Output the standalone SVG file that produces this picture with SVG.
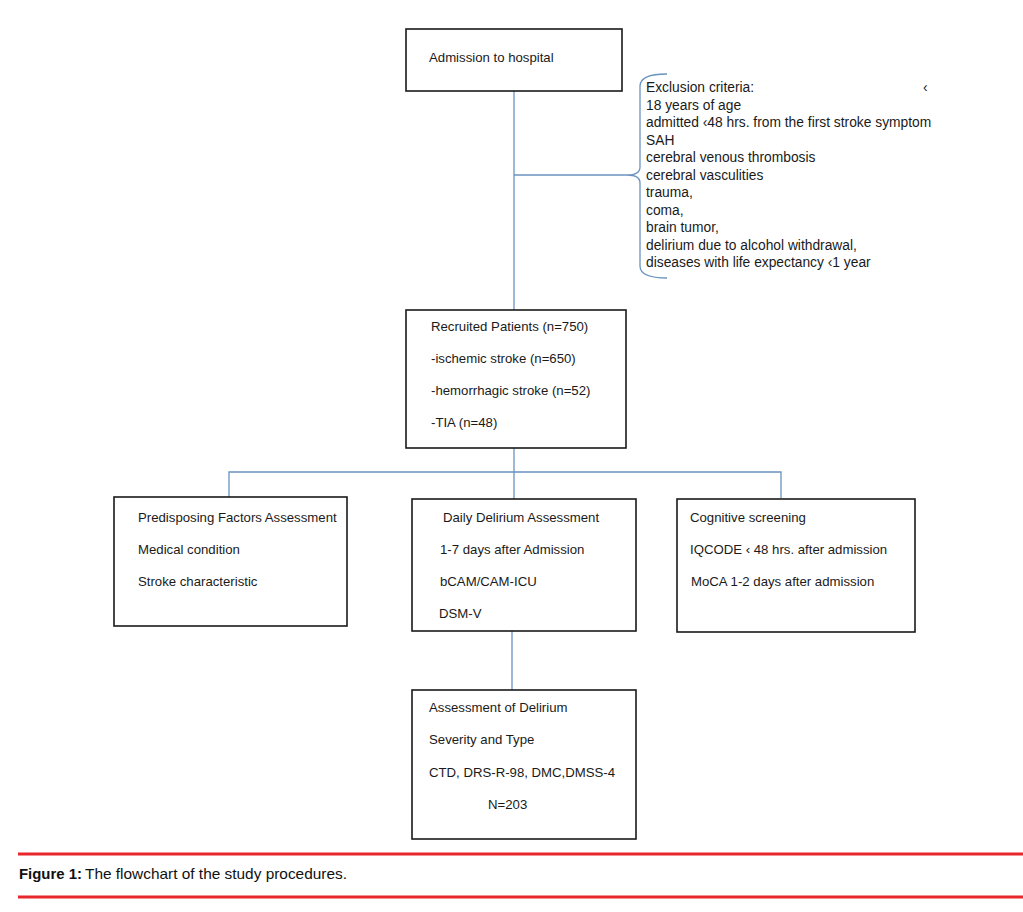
<svg xmlns="http://www.w3.org/2000/svg" width="1023" height="912" viewBox="0 0 1023 912">
<style>
.box{fill:#fff;stroke:#1a1a1a;stroke-width:1.6}
.t{font-family:"Liberation Sans",Arial,sans-serif;font-size:13.2px;fill:#1a1a1a}
.e{font-family:"Liberation Sans",Arial,sans-serif;font-size:13.8px;fill:#1a1a1a}
.c{fill:none;stroke:#6a93bf;stroke-width:1.3}
.red{stroke:#e8262b;stroke-width:3}
.cap{font-family:"Liberation Sans",Arial,sans-serif;font-size:15px;fill:#111}
</style>
<rect width="1023" height="912" fill="#fff"/>
<g id="connectors">
<line class="c" x1="514" y1="91" x2="514" y2="310"/>
<line class="c" x1="514" y1="175" x2="627" y2="175"/>
<path class="c" d="M667,74 Q640,74 640,86 L640,167 Q640,175 627,175 Q640,175 640,183 L640,266 Q640,278 667,278"/>
<line class="c" x1="514" y1="448" x2="514" y2="499"/>
<polyline class="c" points="229,497 229,472 781,472 781,498"/>
<line class="c" x1="512" y1="631" x2="512" y2="690"/>
</g>
<g id="admission">
<rect class="box" x="406" y="29" width="216" height="62"/>
<text class="t" x="429" y="62">Admission to hospital</text>
</g>
<g id="exclusion">
<text class="e" x="646" y="92">Exclusion criteria:</text>
<text class="e" x="923" y="92">‹</text>
<text class="e" x="646" y="109.5">18 years of age</text>
<text class="e" x="646" y="127">admitted ‹48 hrs. from the first stroke symptom</text>
<text class="e" x="646" y="144.5">SAH</text>
<text class="e" x="646" y="162">cerebral venous thrombosis</text>
<text class="e" x="646" y="179.5">cerebral vasculities</text>
<text class="e" x="646" y="197">trauma,</text>
<text class="e" x="646" y="214.5">coma,</text>
<text class="e" x="646" y="232">brain tumor,</text>
<text class="e" x="646" y="249.5">delirium due to alcohol withdrawal,</text>
<text class="e" x="646" y="267">diseases with life expectancy ‹1 year</text>
</g>
<g id="recruited">
<rect class="box" x="406" y="310" width="220" height="138"/>
<text class="t" x="431" y="331">Recruited Patients (n=750)</text>
<text class="t" x="431" y="363">-ischemic stroke (n=650)</text>
<text class="t" x="431" y="395">-hemorrhagic stroke (n=52)</text>
<text class="t" x="431" y="427">-TIA (n=48)</text>
</g>
<g id="predisposing">
<rect class="box" x="114" y="497" width="233" height="129"/>
<text class="t" x="138" y="522">Predisposing Factors Assessment</text>
<text class="t" x="138" y="554">Medical condition</text>
<text class="t" x="138" y="586">Stroke characteristic</text>
</g>
<g id="daily">
<rect class="box" x="412" y="499" width="224" height="132"/>
<text class="t" x="443" y="522">Daily Delirium Assessment</text>
<text class="t" x="440" y="554">1-7 days after Admission</text>
<text class="t" x="440" y="586">bCAM/CAM-ICU</text>
<text class="t" x="439" y="618">DSM-V</text>
</g>
<g id="cognitive">
<rect class="box" x="677" y="499" width="238" height="133"/>
<text class="t" x="690" y="522">Cognitive screening</text>
<text class="t" x="690" y="554">IQCODE ‹ 48 hrs. after admission</text>
<text class="t" x="691" y="586">MoCA 1-2 days after admission</text>
</g>
<g id="severity">
<rect class="box" x="412" y="690" width="224" height="149"/>
<text class="t" x="429" y="712">Assessment of Delirium</text>
<text class="t" x="429" y="744">Severity and Type</text>
<text class="t" x="429" y="777">CTD, DRS-R-98, DMC,DMSS-4</text>
<text class="t" x="488" y="809">N=203</text>
</g>
<g id="caption">
<line class="red" x1="18" y1="854" x2="1023" y2="854"/>
<line class="red" x1="18" y1="897" x2="1023" y2="897"/>
<text class="cap" x="19" y="879"><tspan font-weight="bold" textLength="63" lengthAdjust="spacingAndGlyphs">Figure 1:</tspan><tspan x="85" textLength="262" lengthAdjust="spacingAndGlyphs">The flowchart of the study procedures.</tspan></text>
</g>
</svg>
